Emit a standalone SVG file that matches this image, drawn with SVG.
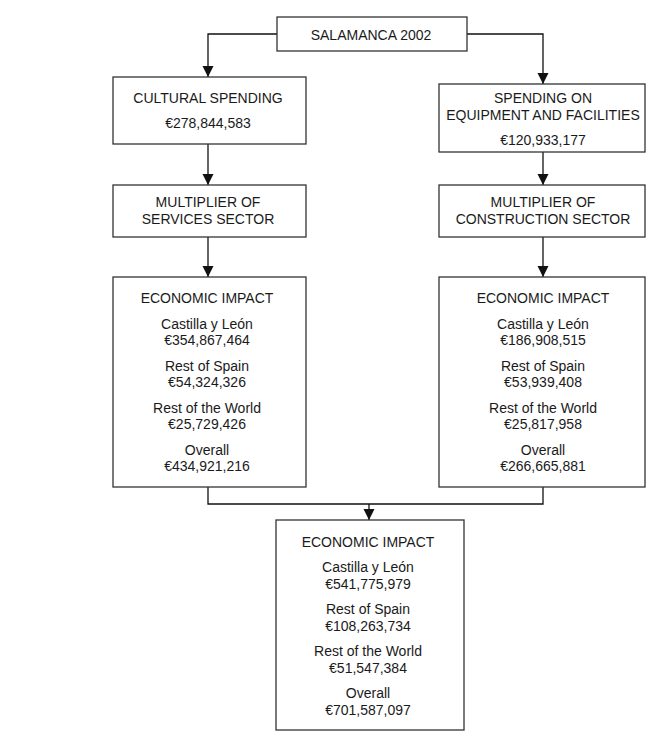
<svg xmlns="http://www.w3.org/2000/svg" width="660" height="736" viewBox="0 0 660 736">
<style>
.box{fill:#fff;stroke:#333;stroke-width:1.3}
.t{font-family:"Liberation Sans",Arial,sans-serif;font-size:14px;fill:#1a1a1a;text-anchor:middle}
.c{fill:none;stroke:#111;stroke-width:1.3}
</style>
<defs>
<marker id="ah" markerUnits="userSpaceOnUse" markerWidth="12" markerHeight="12" refX="11" refY="6" orient="auto">
<path d="M0,0.5 L11,6 L0,11.5 z" fill="#111"/>
</marker>
</defs>
<rect width="660" height="736" fill="#fff"/>
<g id="connectors">
<path class="c" d="M277,34 H208 V77" marker-end="url(#ah)"/>
<path class="c" d="M467,34 H543 V84" marker-end="url(#ah)"/>
<path class="c" d="M208,144 V185" marker-end="url(#ah)"/>
<path class="c" d="M543,152 V185" marker-end="url(#ah)"/>
<path class="c" d="M208,237 V277" marker-end="url(#ah)"/>
<path class="c" d="M543,237 V277" marker-end="url(#ah)"/>
<path class="c" d="M208,487 V504 H543 V487"/>
<path class="c" d="M369,504 V520" marker-end="url(#ah)"/>
</g>
<g id="salamanca">
<rect class="box" x="277" y="17" width="190" height="34"/>
<text class="t" x="371" y="40">SALAMANCA 2002</text>
</g>
<g id="cultural">
<rect class="box" x="113" y="77" width="193" height="67"/>
<text class="t" x="208" y="103">CULTURAL SPENDING</text>
<text class="t" x="208" y="128">€278,844,583</text>
</g>
<g id="equipment">
<rect class="box" x="439" y="84" width="206" height="68"/>
<text class="t" x="543" y="103">SPENDING ON</text>
<text class="t" x="543" y="120">EQUIPMENT AND FACILITIES</text>
<text class="t" x="543" y="145">€120,933,177</text>
</g>
<g id="mult-services">
<rect class="box" x="113" y="185" width="193" height="52"/>
<text class="t" x="208" y="207">MULTIPLIER OF</text>
<text class="t" x="208" y="224">SERVICES SECTOR</text>
</g>
<g id="mult-construction">
<rect class="box" x="439" y="185" width="206" height="52"/>
<text class="t" x="543" y="207">MULTIPLIER OF</text>
<text class="t" x="543" y="224">CONSTRUCTION SECTOR</text>
</g>
<g id="impact-left">
<rect class="box" x="113" y="277" width="193" height="210"/>
<text class="t" x="207" y="303">ECONOMIC IMPACT</text>
<text class="t" x="207" y="329">Castilla y León</text>
<text class="t" x="207" y="345">€354,867,464</text>
<text class="t" x="207" y="371">Rest of Spain</text>
<text class="t" x="207" y="387">€54,324,326</text>
<text class="t" x="207" y="413">Rest of the World</text>
<text class="t" x="207" y="429">€25,729,426</text>
<text class="t" x="207" y="455">Overall</text>
<text class="t" x="207" y="471">€434,921,216</text>
</g>
<g id="impact-right">
<rect class="box" x="439" y="277" width="206" height="210"/>
<text class="t" x="543" y="303">ECONOMIC IMPACT</text>
<text class="t" x="543" y="329">Castilla y León</text>
<text class="t" x="543" y="345">€186,908,515</text>
<text class="t" x="543" y="371">Rest of Spain</text>
<text class="t" x="543" y="387">€53,939,408</text>
<text class="t" x="543" y="413">Rest of the World</text>
<text class="t" x="543" y="429">€25,817,958</text>
<text class="t" x="543" y="455">Overall</text>
<text class="t" x="543" y="471">€266,665,881</text>
</g>
<g id="impact-total">
<rect class="box" x="276" y="520" width="188" height="210"/>
<text class="t" x="368" y="547">ECONOMIC IMPACT</text>
<text class="t" x="368" y="572">Castilla y León</text>
<text class="t" x="368" y="589">€541,775,979</text>
<text class="t" x="368" y="614">Rest of Spain</text>
<text class="t" x="368" y="631">€108,263,734</text>
<text class="t" x="368" y="656">Rest of the World</text>
<text class="t" x="368" y="673">€51,547,384</text>
<text class="t" x="368" y="698">Overall</text>
<text class="t" x="368" y="715">€701,587,097</text>
</g>
</svg>
